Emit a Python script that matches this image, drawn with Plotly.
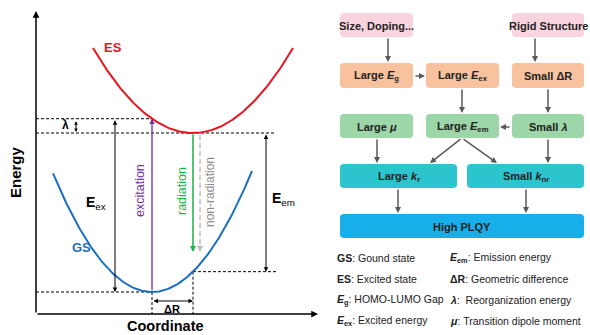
import numpy as np
import plotly.graph_objects as go

# ---------------- configuration-coordinate diagram ----------------
# parabolic potential curves: vertex (coordinate, energy), curvature, drawn span
es_vertex = (193, 133)
es_curvature = 0.0085
es_span = (93, 293)
gs_vertex = (152, 292)
gs_curvature = 0.0121
gs_span = (53, 252)

# ---------------- flowchart ----------------
box_labels = [
    "Size, Doping...", "Rigid Structure",
    "Large <i>E</i><sub>g</sub>", "Large <i>E</i><sub>ex</sub>", "Small ΔR",
    "Large <i>μ</i>", "Large <i>E</i><sub>em</sub>", "Small <i>λ</i>",
    "Large <i>k</i><sub>r</sub>", "Small <i>k</i><sub>nr</sub>",
    "High PLQY",
]
box_groups = ["cause", "cause",
              "energy", "energy", "energy",
              "param", "param", "param",
              "rate", "rate",
              "result"]
# (from box, to box) links
links = [(0, 2), (1, 4), (2, 3), (3, 6), (4, 7), (7, 6),
         (5, 8), (6, 8), (6, 9), (7, 9), (8, 10), (9, 10)]

# ---------------- glossary ----------------
glossary_left = [
    "<b>GS</b>: Gound state",
    "<b>ES</b>: Excited state",
    "<b><i>E</i><sub>g</sub></b>: HOMO-LUMO Gap",
    "<b><i>E</i><sub>ex</sub></b>: Excited energy",
]
glossary_right = [
    "<b><i>E</i><sub>em</sub></b>: Emission energy",
    "<b>ΔR</b>: Geometric difference",
    "<b><i>λ</i></b>:  Reorganization energy",
    "<b><i>μ</i></b>: Transition dipole moment",
]

FONT = "Arial, Liberation Sans, sans-serif"
group_colors = {"cause": "#f9d3de", "energy": "#f8c29f", "param": "#9dd6a8",
                "rate": "#2cc5ce", "result": "#17aeea"}


def parabola(vertex, k, span):
    x = np.linspace(span[0], span[1], 200)
    return x, vertex[1] - k * (x - vertex[0]) ** 2


fig = go.Figure()
shapes = []
ann = []

# curves
xe, ye = parabola(es_vertex, es_curvature, es_span)
xg, yg = parabola(gs_vertex, gs_curvature, gs_span)
fig.add_trace(go.Scatter(x=xe, y=ye, mode="lines", line=dict(color="#e8141c", width=2),
                         hoverinfo="skip", showlegend=False))
fig.add_trace(go.Scatter(x=xg, y=yg, mode="lines", line=dict(color="#1c6fc0", width=2),
                         hoverinfo="skip", showlegend=False))

# derived energy levels
gs_x, gs_e = gs_vertex
es_x, es_e = es_vertex
fc_e = es_e - es_curvature * (gs_x - es_x) ** 2      # vertical excitation lands here
em_low = gs_e - gs_curvature * (es_x - gs_x) ** 2    # vertical emission lands here

axis_left, axis_bottom = 36, 314


def line(x0, y0, x1, y1, color="black", width=1, dash="3px,2px"):
    shapes.append(dict(type="line", xref="x", yref="y", x0=x0, y0=y0, x1=x1, y1=y1,
                       line=dict(color=color, width=width, dash=dash), layer="below"))


def arrow(x0, y0, x1, y1, color="black", width=1, both=False, head=2, size=1.0):
    ann.append(dict(x=x1, y=y1, ax=x0, ay=y0, xref="x", yref="y", axref="x", ayref="y",
                    text="", showarrow=True, arrowhead=head, startarrowhead=head,
                    arrowsize=size, startarrowsize=size, arrowwidth=width,
                    arrowcolor=color, arrowside="end+start" if both else "end",
                    standoff=0, startstandoff=0))


def label(x, y, text, size=12, color="black", angle=0, xanchor="center"):
    ann.append(dict(x=x, y=y, xref="x", yref="y", text=text, showarrow=False,
                    textangle=angle, xanchor=xanchor, yanchor="middle",
                    font=dict(family=FONT, size=size, color=color)))


# axes
arrow(axis_left, axis_bottom, axis_left, 11, width=1.5, size=0.9)
arrow(axis_left, axis_bottom, 318, axis_bottom, width=1.5, size=0.9)

# dashed guide lines
line(axis_left, fc_e, gs_x, fc_e)
line(axis_left, es_e, 275, es_e)
line(axis_left, gs_e, gs_x, gs_e)
line(es_x, em_low, 278, em_low)
line(gs_x, gs_e, gs_x, axis_bottom)
line(es_x, em_low, es_x, axis_bottom)

# transitions
arrow(gs_x, gs_e, gs_x, fc_e, color="#7030a0", width=1.3, size=0.8)
arrow(es_x, es_e, es_x, 252, color="#1db348", width=1.5, size=0.8)
line(200, es_e + 2, 200, 246, color="#bdbdbd", width=1.5, dash="5px,3px")
arrow(200, 244, 200, 252, color="#bdbdbd", width=1.5, size=0.8)

# energy gaps
arrow(115, fc_e, 115, gs_e, width=1, both=True, size=0.9)
arrow(266, es_e, 266, em_low, width=1, both=True, size=0.9)
arrow(76, fc_e + 1, 76, es_e - 1, width=1, both=True, size=0.7)
arrow(gs_x, 301, es_x, 301, width=1, both=True, size=0.9)

# diagram labels
label(15, 172, "<b>Energy</b>", size=15, angle=-90)
label(165, 326, "<b>Coordinate</b>", size=14.5)
label(113, 47, "<b>ES</b>", size=13, color="#e8141c")
label(81, 247, "<b>GS</b>", size=13, color="#1c6fc0")
label(65, 125, "<b>λ</b>", size=12)
label(96, 203, "<b>E</b><sub>ex</sub>", size=14)
label(283, 199, "<b>E</b><sub>em</sub>", size=14)
label(172, 309, "<b>ΔR</b>", size=11)
label(140, 191, "excitation", size=12.5, color="#7030a0", angle=-90)
label(182, 191, "radiation", size=12.5, color="#1db348", angle=-90)
label(210, 192, "non-radiation", size=12, color="#8c8c8c", angle=-90)

# ---------------- flowchart layout ----------------
cols = [(340, 413), (426, 499), (512, 584)]
rows = [(13, 37), (63, 88), (114, 138), (164, 188), (214, 238)]
box_rects = [
    (cols[0], rows[0]), (cols[2], rows[0]),
    (cols[0], rows[1]), (cols[1], rows[1]), (cols[2], rows[1]),
    (cols[0], rows[2]), (cols[1], rows[2]), (cols[2], rows[2]),
    ((340, 457), rows[3]), ((467, 584), rows[3]),
    ((340, 584), rows[4]),
]


def rounded(x0, x1, y0, y1, r=4):
    return (f"M{x0 + r},{y0} L{x1 - r},{y0} Q{x1},{y0} {x1},{y0 + r} "
            f"L{x1},{y1 - r} Q{x1},{y1} {x1 - r},{y1} L{x0 + r},{y1} "
            f"Q{x0},{y1} {x0},{y1 - r} L{x0},{y0 + r} Q{x0},{y0} {x0 + r},{y0} Z")


for text, grp, ((x0, x1), (y0, y1)) in zip(box_labels, box_groups, box_rects):
    shapes.append(dict(type="path", xref="x", yref="y", path=rounded(x0, x1, y0, y1),
                       fillcolor=group_colors[grp], line=dict(width=0), layer="below"))
    label((x0 + x1) / 2, (y0 + y1) / 2 + 0.5, f"<b>{text}</b>", size=11, color="#222222")

# link anchor points (tail, head)
link_points = {
    (0, 2): ((388, 37), (388, 62)),
    (1, 4): ((535, 37), (535, 62)),
    (2, 3): ((414, 76), (425, 76)),
    (3, 6): ((462, 88), (462, 113)),
    (4, 7): ((548, 88), (548, 113)),
    (7, 6): ((511, 127), (500, 127)),
    (5, 8): ((377, 138), (377, 163)),
    (6, 8): ((462, 138), (430, 163)),
    (6, 9): ((462, 138), (497, 163)),
    (7, 9): ((548, 138), (548, 163)),
    (8, 10): ((398, 188), (398, 213)),
    (9, 10): ((526, 188), (526, 213)),
}
for lk in links:
    (tx, ty), (hx, hy) = link_points[lk]
    arrow(tx, ty, hx, hy, color="#595959", width=1.5, size=0.8)

# glossary
for i, t in enumerate(glossary_left):
    label(335, 258 + i * 21, t, size=10.5, color="#222222", xanchor="left")
for i, t in enumerate(glossary_right):
    label(448, 258 + i * 21, t, size=10.5, color="#222222", xanchor="left")

fig.update_layout(
    width=590, height=335, margin=dict(l=0, r=0, t=0, b=0),
    paper_bgcolor="white", plot_bgcolor="white",
    xaxis=dict(range=[0, 590], visible=False, fixedrange=True),
    yaxis=dict(range=[335, 0], visible=False, fixedrange=True),
    shapes=shapes, annotations=ann, showlegend=False,
    font=dict(family=FONT),
)
fig.write_html("out.html")
